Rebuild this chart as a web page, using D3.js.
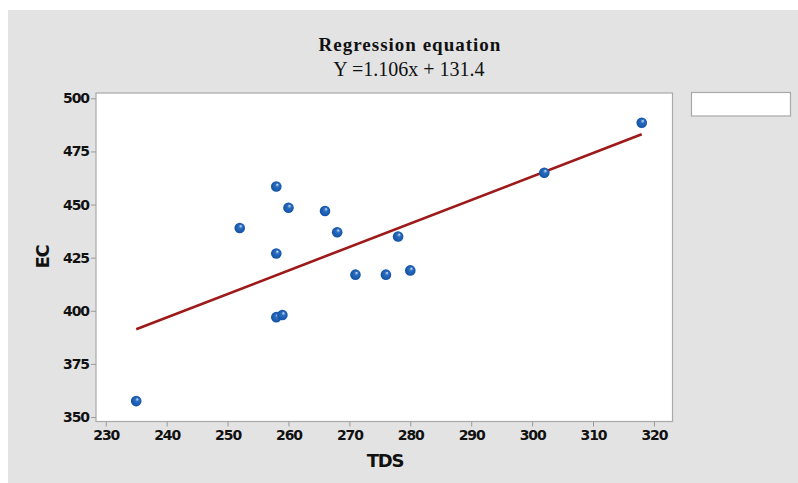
<!DOCTYPE html>
<html>
<head>
<meta charset="utf-8">
<script src="https://cdn.jsdelivr.net/npm/d3@7/dist/d3.min.js"></script>
<style>
  html, body { margin: 0; padding: 0; background: #ffffff; }
  svg { display: block; }
</style>
</head>
<body>
<script>
const tdsValues = [235, 252, 258, 260, 266, 268, 278, 258, 271, 276, 280, 258, 259, 302, 318];
const ecValues  = [357.5, 439, 458.5, 448.5, 447, 437, 435, 427, 417, 417, 419, 397, 398, 465, 488.5];
const xTicks = [230, 240, 250, 260, 270, 280, 290, 300, 310, 320];
const yTicks = [350, 375, 400, 425, 450, 475, 500];
const slope = 1.106, intercept = 131.4;
const titleText = "Regression equation";
const equationText = "Y =1.106x + 131.4";
const xLabel = "TDS", yLabel = "EC";

const W = 798, H = 483;
const svg = d3.select("body").append("svg").attr("width", W).attr("height", H);

const defs = svg.append("defs");
const grad = defs.append("radialGradient").attr("id", "dotGrad")
  .attr("cx", "0.5").attr("cy", "0.55").attr("r", "0.6").attr("fx", "0.62").attr("fy", "0.3");
grad.append("stop").attr("offset", "0").attr("stop-color", "#d5e4f6");
grad.append("stop").attr("offset", "0.3").attr("stop-color", "#2a6cc0");
grad.append("stop").attr("offset", "1").attr("stop-color", "#0b4a9c");

// background panel
svg.append("rect").attr("x", 8).attr("y", 10).attr("width", W - 8).attr("height", H - 10)
  .attr("fill", "#e3e3e3");

const plot = { left: 96, top: 93, right: 672.5, bottom: 421.5 };
const x = d3.scaleLinear().domain([228.4, 323.05]).range([plot.left, plot.right]);
const y = d3.scaleLinear().domain([347.9, 502.5]).range([plot.bottom, plot.top]);

svg.append("rect").attr("x", plot.left).attr("y", plot.top)
  .attr("width", plot.right - plot.left).attr("height", plot.bottom - plot.top)
  .attr("fill", "#ffffff").attr("stroke", "#a9a9a9").attr("stroke-width", 1.2);

// legend box
svg.append("rect").attr("x", 691.5).attr("y", 92.5).attr("width", 99).attr("height", 23.5)
  .attr("fill", "#ffffff").attr("stroke", "#a9a9a9").attr("stroke-width", 1.2);

const tickFont = "DejaVu Sans, sans-serif";

const xAxis = svg.append("g").attr("transform", `translate(0,${plot.bottom})`)
  .call(d3.axisBottom(x).tickValues(xTicks).tickSize(5).tickSizeOuter(0).tickPadding(4));
const yAxis = svg.append("g").attr("transform", `translate(${plot.left},0)`)
  .call(d3.axisLeft(y).tickValues(yTicks).tickSize(5).tickSizeOuter(0).tickPadding(2));
[xAxis, yAxis].forEach(g => {
  g.select(".domain").remove();
  g.selectAll(".tick line").attr("stroke", "#9a9a9a").attr("stroke-width", 1);
  g.selectAll(".tick text").attr("fill", "#111").attr("font-family", tickFont)
    .attr("font-weight", "bold").attr("font-size", 14).attr("letter-spacing", "-1.1px");
});

// regression line
const xs = d3.extent(tdsValues);
svg.append("line")
  .attr("x1", x(xs[0])).attr("y1", y(slope * xs[0] + intercept))
  .attr("x2", x(xs[1])).attr("y2", y(slope * xs[1] + intercept))
  .attr("stroke", "#9e1a1a").attr("stroke-width", 2.6);

// points
svg.append("g").selectAll("circle").data(tdsValues.map((v, i) => [v, ecValues[i]]))
  .join("circle")
  .attr("cx", d => x(d[0])).attr("cy", d => y(d[1])).attr("r", 5.3)
  .attr("fill", "url(#dotGrad)");

// titles
svg.append("text").attr("x", 410).attr("y", 51).attr("text-anchor", "middle")
  .attr("font-family", "Liberation Serif, Times New Roman, serif").attr("font-weight", "bold")
  .attr("font-size", 19).attr("letter-spacing", "1px").attr("fill", "#111").text(titleText);
svg.append("text").attr("x", 409).attr("y", 76).attr("text-anchor", "middle")
  .attr("font-family", "Liberation Serif, Times New Roman, serif")
  .attr("font-size", 20).attr("fill", "#111").text(equationText);

svg.append("text").attr("x", 385).attr("y", 467).attr("text-anchor", "middle")
  .attr("font-family", tickFont).attr("font-weight", "bold").attr("font-size", 18)
  .attr("letter-spacing", "-1.2px").attr("fill", "#111").text(xLabel);
svg.append("text").attr("transform", "translate(49,257) rotate(-90)").attr("text-anchor", "middle")
  .attr("font-family", tickFont).attr("font-weight", "bold").attr("font-size", 18)
  .attr("letter-spacing", "-1.2px").attr("fill", "#111").text(yLabel);
</script>
</body>
</html>
